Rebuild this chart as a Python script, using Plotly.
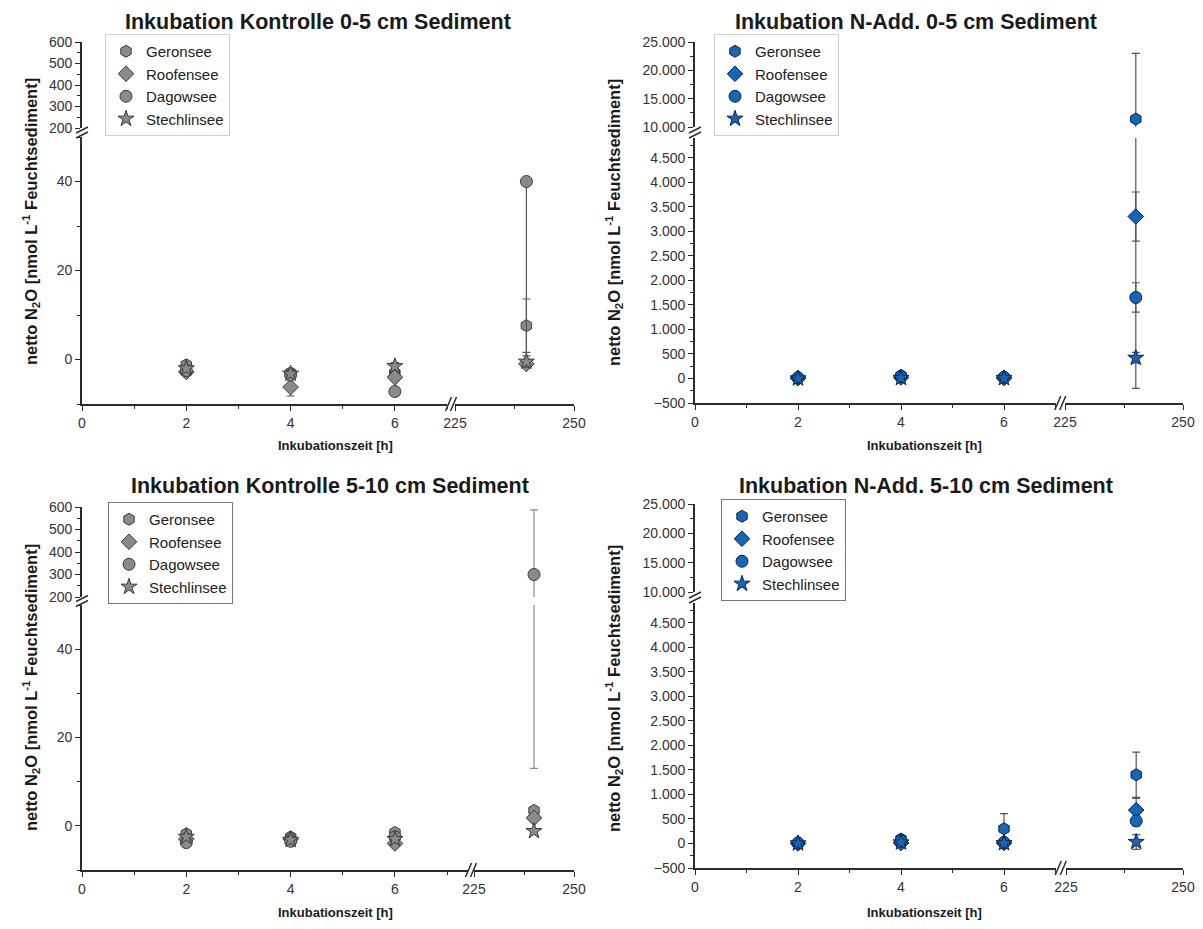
import plotly.graph_objects as go

# ---------------- data ----------------
times = [2, 4, 6, 240]
lakes = ["Geronsee", "Roofensee", "Dagowsee", "Stechlinsee"]

# Panel 1: Kontrolle 0-5 cm
k05_values = {
    "Geronsee":    [-1.2, -3.0, -3.0, 7.6],
    "Roofensee":   [-2.8, -6.2, -4.0, -1.0],
    "Dagowsee":    [-2.5, -3.5, -7.2, 40.0],
    "Stechlinsee": [-2.0, -3.2, -1.5, -0.5],
}
k05_err_plus = {
    "Geronsee":    [0.5, 0.8, 0.8, 6.0],
    "Roofensee":   [0.4, 2.0, 0.8, 0.5],
    "Dagowsee":    [0.4, 0.6, 0.5, 0.0],
    "Stechlinsee": [0.3, 0.4, 0.8, 1.3],
}
k05_err_minus = {
    "Geronsee":    [0.5, 0.8, 0.8, 6.0],
    "Roofensee":   [0.4, 2.0, 0.8, 0.5],
    "Dagowsee":    [0.4, 0.6, 0.5, 40.0],
    "Stechlinsee": [0.3, 0.4, 0.8, 1.3],
}
# Panel 2: N-Add 0-5 cm
n05_values = {
    "Geronsee":    [10, 60, 20, 11400],
    "Roofensee":   [5, 20, 10, 3300],
    "Dagowsee":    [15, 40, 25, 1650],
    "Stechlinsee": [0, 10, 5, 420],
}
n05_err_plus = {
    "Geronsee":    [10, 20, 15, 11600],
    "Roofensee":   [5, 10, 5, 500],
    "Dagowsee":    [5, 15, 10, 300],
    "Stechlinsee": [2, 5, 5, 110],
}
n05_err_minus = n05_err_plus
# Panel 3: Kontrolle 5-10 cm
k510_values = {
    "Geronsee":    [-1.8, -2.5, -1.5, 3.5],
    "Roofensee":   [-3.0, -3.0, -4.0, 1.8],
    "Dagowsee":    [-3.8, -3.5, -2.5, 300.0],
    "Stechlinsee": [-2.5, -3.2, -3.0, -1.2],
}
k510_err_plus = {
    "Geronsee":    [0.4, 0.4, 0.5, 0.6],
    "Roofensee":   [0.4, 0.4, 0.5, 0.8],
    "Dagowsee":    [0.4, 0.5, 0.6, 287.0],
    "Stechlinsee": [0.3, 0.4, 0.5, 0.5],
}
k510_err_minus = k510_err_plus
# Panel 4: N-Add 5-10 cm
n510_values = {
    "Geronsee":    [5, 90, 300, 1400],
    "Roofensee":   [0, 10, 10, 680],
    "Dagowsee":    [10, 50, 20, 460],
    "Stechlinsee": [0, 20, 5, 30],
}
n510_err_plus = {
    "Geronsee":    [5, 20, 310, 460],
    "Roofensee":   [3, 5, 5, 240],
    "Dagowsee":    [5, 10, 10, 100],
    "Stechlinsee": [2, 5, 3, 150],
}
n510_err_minus = n510_err_plus

titles = ["Inkubation Kontrolle 0-5 cm Sediment",
          "Inkubation N-Add. 0-5 cm Sediment",
          "Inkubation Kontrolle 5-10 cm Sediment",
          "Inkubation N-Add. 5-10 cm Sediment"]

# ---------------- styling ----------------
PAGE_W, PAGE_H = 1203, 929
OFF = 8                      # default body margin of the html page
W, H = PAGE_W - 2 * OFF, PAGE_H - 2 * OFF
FONT = "Liberation Sans, Arial, sans-serif"
AX = "#2b2b2b"
symbols = {"Geronsee": "hexagon", "Roofensee": "diamond",
           "Dagowsee": "circle", "Stechlinsee": "star"}
gray = dict(fill="#8a8a8a", edge="#3a3a3a")
blue = dict(fill="#1565b8", edge="#0d2545")


def fx(p):
    return (p - OFF) / W


def fy(p):
    return 1 - (p - OFF) / H


panels = [
    dict(vals=k05_values, ep=k05_err_plus, em=k05_err_minus, col=gray, err="#555555", kind="k",
         xa=(82, 447), xa_rng=[0, 7], xb=(455, 574),
         ya=(404, 137), ya_rng=[-10, 50], yb=(128, 42), yb_rng=[200, 600],
         title=(318, 22), xtitle=(335, 446), ytitle=(31, 222),
         legend=(105, 34), lborder="#d0d0d0"),
    dict(vals=n05_values, ep=n05_err_plus, em=n05_err_minus, col=blue, err="#555555", kind="n",
         xa=(695, 1055.5), xa_rng=[0, 7], xb=(1065, 1183),
         ya=(403, 138), ya_rng=[-500, 4900], yb=(127, 42), yb_rng=[10000, 25000],
         title=(916, 22), xtitle=(924, 446), ytitle=(614, 222),
         legend=(714, 34), lborder="#d0d0d0"),
    dict(vals=k510_values, ep=k510_err_plus, em=k510_err_minus, col=gray, err="#8c8c8c", kind="k",
         xa=(82, 468), xa_rng=[0, 7.4], xb=(474, 574),
         ya=(870, 605), ya_rng=[-10, 50], yb=(597, 507), yb_rng=[200, 600],
         title=(330, 486), xtitle=(335, 912), ytitle=(31, 688),
         legend=(108, 502), lborder="#777777"),
    dict(vals=n510_values, ep=n510_err_plus, em=n510_err_minus, col=blue, err="#555555", kind="n",
         xa=(695, 1055.5), xa_rng=[0, 7], xb=(1066, 1183),
         ya=(868, 603), ya_rng=[-500, 4900], yb=(592, 504), yb_rng=[10000, 25000],
         title=(926, 486), xtitle=(924, 912), ytitle=(614, 688),
         legend=(721, 499), lborder="#777777"),
]

fig = go.Figure()
layout = {}
shapes = []
annotations = []

common = dict(showline=True, linecolor=AX, linewidth=1.6, ticks="outside",
              ticklen=5, tickwidth=1.4, tickcolor=AX, showgrid=False,
              zeroline=False, fixedrange=True, automargin=False,
              exponentformat="none", ticklabeloverflow="allow",
              tickfont=dict(family=FONT, size=14, color="#333333"))

for k, p in enumerate(panels):
    ia, ib = 2 * k + 1, 2 * k + 2
    xa_name = "x" if ia == 1 else f"x{ia}"
    xb_name = f"x{ib}"
    ya_name = "y" if ia == 1 else f"y{ia}"
    yb_name = f"y{ib}"
    xa_key = "xaxis" if ia == 1 else f"xaxis{ia}"
    ya_key = "yaxis" if ia == 1 else f"yaxis{ia}"
    leg = "legend" if k == 0 else f"legend{k + 1}"

    layout[xa_key] = dict(common, domain=[fx(p["xa"][0]), fx(p["xa"][1])],
                          range=p["xa_rng"], anchor=ya_name, tick0=0, dtick=2,
                          minor=dict(ticks="outside", ticklen=3, tickcolor=AX, dtick=1))
    layout[f"xaxis{ib}"] = dict(common, domain=[fx(p["xb"][0]), fx(p["xb"][1])],
                                range=[225, 250], anchor=ya_name, tick0=0, dtick=25,
                                minor=dict(ticks="outside", ticklen=3, tickcolor=AX, dtick=12.5))
    if p["kind"] == "k":
        ya_ax = dict(tick0=0, dtick=20, minor=dict(ticks="outside", ticklen=3, tickcolor=AX, dtick=10))
        yb_ax = dict(tick0=0, dtick=100, minor=dict(ticks="outside", ticklen=3, tickcolor=AX, dtick=50))
    else:
        ya_ax = dict(tick0=0, dtick=500, separatethousands=True,
                     minor=dict(ticks="outside", ticklen=3, tickcolor=AX, dtick=250))
        yb_ax = dict(tick0=0, dtick=5000, separatethousands=True,
                     minor=dict(ticks="outside", ticklen=3, tickcolor=AX, dtick=2500))
    layout[ya_key] = dict(common, domain=[fy(p["ya"][0]), fy(p["ya"][1])],
                          range=p["ya_rng"], anchor=xa_name, **ya_ax)
    layout[f"yaxis{ib}"] = dict(common, domain=[fy(p["yb"][0]), fy(p["yb"][1])],
                                range=p["yb_rng"], anchor=xa_name, **yb_ax)

    col = p["col"]
    for lake in lakes:
        first = True
        for xn in (xa_name, xb_name):
            for yn in (ya_name, yb_name):
                fig.add_trace(go.Scatter(
                    x=times, y=p["vals"][lake], xaxis=xn, yaxis=yn,
                    mode="markers", name=lake, legend=leg,
                    showlegend=first,
                    error_y=dict(type="data", symmetric=False,
                                 array=p["ep"][lake], arrayminus=p["em"][lake],
                                 visible=True, color=p["err"], thickness=1.2, width=4),
                    marker=dict(symbol=symbols[lake], size=12,
                                color=col["fill"], line=dict(color=col["edge"], width=1)),
                ))
                first = False

    layout[leg] = dict(x=fx(p["legend"][0]), y=fy(p["legend"][1]),
                       xanchor="left", yanchor="top",
                       bgcolor="rgba(255,255,255,0)", bordercolor=p["lborder"],
                       borderwidth=1, itemwidth=30, tracegroupgap=0,
                       font=dict(family=FONT, size=15, color="#222222"))

    # axis break marks: y axis
    x0 = p["xa"][0]
    ymid = (p["ya"][1] + p["yb"][0]) / 2
    for off in (-2.5, 2.5):
        shapes.append(dict(type="line", xref="paper", yref="paper",
                           x0=fx(x0 - 6), y0=fy(ymid + off + 3),
                           x1=fx(x0 + 6), y1=fy(ymid + off - 3),
                           line=dict(color=AX, width=1.5)))
    # axis break marks: x axis
    xmid = (p["xa"][1] + p["xb"][0]) / 2
    yax = p["ya"][0]
    for off in (-2.5, 2.5):
        shapes.append(dict(type="line", xref="paper", yref="paper",
                           x0=fx(xmid + off - 3), y0=fy(yax + 7),
                           x1=fx(xmid + off + 3), y1=fy(yax - 7),
                           line=dict(color=AX, width=1.5)))

    annotations.append(dict(text="<b>" + titles[k] + "</b>",
                            x=fx(p["title"][0]), y=fy(p["title"][1]),
                            xref="paper", yref="paper", showarrow=False,
                            xanchor="center", yanchor="middle",
                            font=dict(family=FONT, size=21.5, color="#1a1a1a")))
    annotations.append(dict(text="<b>Inkubationszeit [h]</b>",
                            x=fx(p["xtitle"][0]), y=fy(p["xtitle"][1]),
                            xref="paper", yref="paper", showarrow=False,
                            xanchor="center", yanchor="middle",
                            font=dict(family=FONT, size=13, color="#1a1a1a")))
    annotations.append(dict(text="<b>netto N<sub>2</sub>O [nmol L<sup>-1</sup> Feuchtsediment]</b>",
                            x=fx(p["ytitle"][0]), y=fy(p["ytitle"][1]),
                            xref="paper", yref="paper", showarrow=False, textangle=-90,
                            xanchor="center", yanchor="middle",
                            font=dict(family=FONT, size=16.5, color="#1a1a1a")))

fig.update_layout(**layout)
fig.update_layout(width=W, height=H,
                  margin=dict(l=0, r=0, t=0, b=0, pad=0, autoexpand=False),
                  paper_bgcolor="white", plot_bgcolor="white",
                  separators=",.", shapes=shapes, annotations=annotations,
                  font=dict(family=FONT))

fig.write_html("out.html")
